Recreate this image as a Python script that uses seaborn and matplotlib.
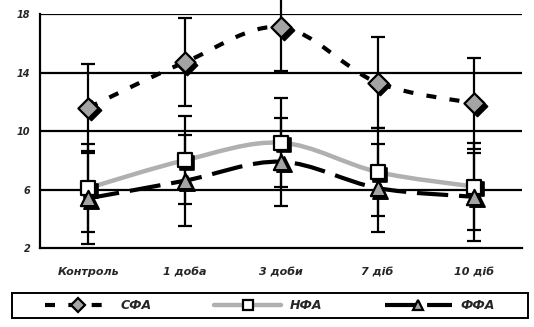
import numpy as np
import pandas as pd
import seaborn as sns
import matplotlib
matplotlib.use("Agg")
import matplotlib.pyplot as plt
from matplotlib.path import Path
from matplotlib.patches import PathPatch, Rectangle
from matplotlib.lines import Line2D
import matplotlib.transforms as mtransforms

# Categories (time points) and series values with error margins
categories = ["Контроль", "1 доба", "3 доби", "7 діб", "10 діб"]
sfa = [11.6, 14.7, 17.1, 13.3, 11.9]
sfa_err = [3.0, 3.0, 3.0, 3.1, 3.1]
nfa = [6.1, 8.0, 9.2, 7.2, 6.2]
nfa_err = [3.0, 3.0, 3.05, 3.0, 3.0]
ffa = [5.4, 6.6, 7.9, 6.1, 5.5]
ffa_err = [3.1, 3.1, 3.0, 3.0, 3.0]
series_names = ["СФА", "НФА", "ФФА"]
y_ticks = [2, 6, 10, 14, 18]

sns.set_style("white")
plt.rcParams["font.family"] = ["DejaVu Sans"]
plt.rcParams["font.weight"] = "bold"
plt.rcParams["font.style"] = "italic"

df = pd.DataFrame({
    "cat": np.tile(np.arange(len(categories)), 3),
    "value": sfa + nfa + ffa,
    "err": sfa_err + nfa_err + ffa_err,
    "series": np.repeat(series_names, len(categories)),
})

fig = plt.figure(figsize=(5.34, 3.27), dpi=100)
ax = fig.add_axes([0.075, 0.2416, 0.903, 0.7154])


def smooth_path(xs, ys):
    """Bezier path through the points with Excel-like smoothing."""
    pts = np.column_stack([xs, ys]).astype(float)
    n = len(pts)
    verts = [pts[0]]
    codes = [Path.MOVETO]
    for i in range(n - 1):
        p_prev = pts[max(i - 1, 0)]
        p0 = pts[i]
        p1 = pts[i + 1]
        p_next = pts[min(i + 2, n - 1)]
        c1 = p0 + (p1 - p_prev) / 6.0
        c2 = p1 - (p_next - p0) / 6.0
        verts += [c1, c2, p1]
        codes += [Path.CURVE4] * 3
    return Path(verts, codes)


styles = {
    "СФА": dict(color="black", lw=3.0, ls=(0, (2.4, 3.2)), marker="D", fc="#a4a4a4", ms=105),
    "НФА": dict(color="#b0b0b0", lw=3.2, ls="-", marker="s", fc="white", ms=115),
    "ФФА": dict(color="black", lw=3.0, ls=(0, (7.5, 2.6)), marker="^", fc="#a4a4a4", ms=120),
}

# Error bars
for name in series_names:
    sub = df[df["series"] == name]
    ax.errorbar(sub["cat"], sub["value"], yerr=sub["err"], fmt="none",
                ecolor="black", elinewidth=1.6, capsize=4.8, capthick=1.6,
                zorder=2, clip_on=False)

# Smoothed lines
for name in series_names:
    sub = df[df["series"] == name]
    st = styles[name]
    patch = PathPatch(smooth_path(sub["cat"].values, sub["value"].values),
                      fill=False, edgecolor=st["color"], lw=st["lw"],
                      linestyle=st["ls"], zorder=3, capstyle="butt")
    ax.add_patch(patch)

# Markers with a dark drop shadow
shadow = mtransforms.offset_copy(ax.transData, fig=fig, x=2.6, y=-2.6, units="dots")
for name in series_names:
    sub = df[df["series"] == name]
    st = styles[name]
    sns.scatterplot(data=sub, x="cat", y="value", marker=st["marker"], s=st["ms"],
                    color="black", edgecolor="black", linewidth=1.2, ax=ax,
                    zorder=4, transform=shadow, legend=False)
    sns.scatterplot(data=sub, x="cat", y="value", marker=st["marker"], s=st["ms"],
                    color=st["fc"], edgecolor="black", linewidth=1.6, ax=ax,
                    zorder=5, legend=False)

ax.set_xlim(-0.5, len(categories) - 0.5)
ax.set_ylim(2, 18)
ax.set_xlabel("")
ax.set_ylabel("")

# Horizontal grid
ax.set_yticks(y_ticks)
ax.set_yticklabels([str(t) for t in y_ticks], fontsize=7, fontweight="bold", fontstyle="italic")
for t in y_ticks[1:]:
    ax.axhline(t, color="black", lw=1.6, zorder=1)

ax.set_xticks(range(len(categories)))
ax.set_xticklabels(categories, fontsize=8, fontweight="bold", fontstyle="italic")
ax.set_xticks(np.arange(-0.5, len(categories), 1.0), minor=True)
ax.tick_params(axis="x", which="major", length=0, pad=14)
ax.tick_params(axis="x", which="minor", length=4, width=1.5, color="black", direction="out")
ax.tick_params(axis="y", length=4, width=1.5, color="black", direction="out", pad=3)

for side in ["top", "right"]:
    ax.spines[side].set_visible(False)
for side in ["left", "bottom"]:
    ax.spines[side].set_color("black")
    ax.spines[side].set_linewidth(1.6)

# Legend below the chart, inside a full-width box
handles = []
for name in series_names:
    st = styles[name]
    handles.append(Line2D([], [], color=st["color"], lw=st["lw"], ls=st["ls"],
                          marker=st["marker"], markerfacecolor=st["fc"],
                          markeredgecolor="black", markeredgewidth=1.6, markersize=7))
leg = fig.legend(handles, series_names, loc="center", ncol=3,
                 bbox_to_anchor=(0.505, 0.066), borderaxespad=0,
                 frameon=False, handlelength=5.4,
                 handletextpad=0.65, columnspacing=5.0, borderpad=0.45,
                 prop=dict(family="DejaVu Sans", weight="bold", style="italic", size=9))

fig.add_artist(Rectangle((0.022, 0.028), 0.966, 0.076, transform=fig.transFigure,
                         fill=False, edgecolor="black", lw=1.4))

fig.savefig("out.png", dpi=100)
